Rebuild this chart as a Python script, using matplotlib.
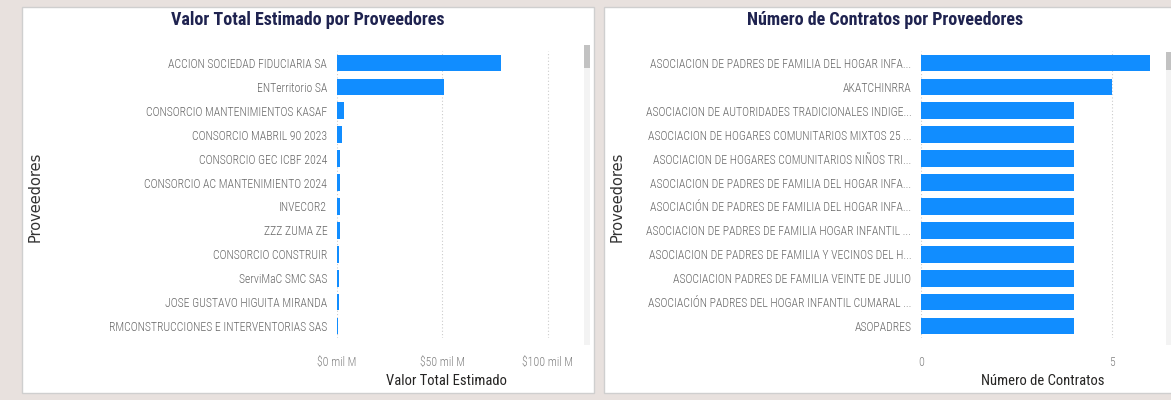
import matplotlib
matplotlib.use("Agg")
import matplotlib.pyplot as plt
from matplotlib.patches import Rectangle
from matplotlib import font_manager

# ---------------- data ----------------
left_categories = [
    "ACCION SOCIEDAD FIDUCIARIA SA",
    "ENTerritorio SA",
    "CONSORCIO MANTENIMIENTOS KASAF",
    "CONSORCIO MABRIL 90 2023",
    "CONSORCIO GEC ICBF 2024",
    "CONSORCIO AC MANTENIMIENTO 2024",
    "INVECOR2",
    "ZZZ ZUMA ZE",
    "CONSORCIO CONSTRUIR",
    "ServiMaC SMC SAS",
    "JOSE GUSTAVO HIGUITA MIRANDA",
    "RMCONSTRUCCIONES E INTERVENTORIAS SAS",
]
left_values = [77.7, 50.8, 3.4, 2.2, 1.5, 1.5, 1.4, 1.2, 1.1, 1.0, 0.8, 0.7]  # mil M
left_ticks = [0, 50, 100]
left_ticklabels = ["$0 mil M", "$50 mil M", "$100 mil M"]

right_categories = [
    "ASOCIACION DE PADRES DE FAMILIA DEL HOGAR INFA...",
    "AKATCHINRRA",
    "ASOCIACION DE AUTORIDADES TRADICIONALES INDIGE...",
    "ASOCIACION DE HOGARES COMUNITARIOS MIXTOS 25 ...",
    "ASOCIACION DE HOGARES COMUNITARIOS NIÑOS TRI...",
    "ASOCIACION DE PADRES DE FAMILIA DEL HOGAR INFA...",
    "ASOCIACIÓN DE PADRES DE FAMILIA DEL HOGAR INFA...",
    "ASOCIACION DE PADRES DE FAMILIA HOGAR INFANTIL ...",
    "ASOCIACION DE PADRES DE FAMILIA Y VECINOS DEL H...",
    "ASOCIACION PADRES DE FAMILIA VEINTE DE JULIO",
    "ASOCIACIÓN PADRES DEL HOGAR INFANTIL CUMARAL ...",
    "ASOPADRES",
]
right_values = [6, 5, 4, 4, 4, 4, 4, 4, 4, 4, 4, 4]
right_ticks = [0, 5]
right_ticklabels = ["0", "5"]

left_title = "Valor Total Estimado por Proveedores"
right_title = "Número de Contratos por Proveedores"
left_xlabel = "Valor Total Estimado"
right_xlabel = "Número de Contratos"
ylabel = "Proveedores"

# ---------------- style ----------------
W, H = 1171, 400
BG = "#e8e1de"
BAR = "#118DFF"
TITLE_C = "#1f2350"
LABEL_C = "#666666"

names = {f.name for f in font_manager.fontManager.ttflist}
NARROW_FAM = None
for cand in ["Liberation Sans Narrow", "Roboto Condensed", "Open Sans Condensed",
             "DejaVu Sans Condensed", "Noto Sans Condensed"]:
    if cand in names:
        NARROW_FAM = cand
        break
if NARROW_FAM is None:
    NARROW = dict(family="DejaVu Sans", stretch="condensed")
else:
    NARROW = dict(family=NARROW_FAM)

fig = plt.figure(figsize=(W / 100, H / 100), dpi=100)
fig.patch.set_facecolor(BG)


def fx(px):
    return px / W


def fy(py):
    return 1 - py / H


def rect(x0, y0, x1, y1, **kw):
    fig.patches.append(Rectangle((fx(x0), fy(y1)), fx(x1) - fx(x0), fy(y0) - fy(y1),
                                 transform=fig.transFigure, **kw))


# panels
rect(22, 7, 594, 393, facecolor="white", edgecolor="#cfcfcf", linewidth=1.0, zorder=-2)
rect(604, 7, 1175, 393, facecolor="white", edgecolor="#cfcfcf", linewidth=1.0, zorder=-2)

# scrollbars
rect(584, 45, 590, 345, facecolor="#f3f3f3", edgecolor="none", zorder=-1)
rect(584, 45, 590, 68, facecolor="#c2c2c2", edgecolor="none", zorder=-1)
rect(1166, 52, 1172, 345, facecolor="#f3f3f3", edgecolor="none", zorder=-1)
rect(1166, 52, 1172, 70, facecolor="#c2c2c2", edgecolor="none", zorder=-1)


def make_axes(x0, x1, xmax, cats, vals, ticks, ticklabels, title, title_x, xlabel,
              xlabel_x, ylabel_x):
    top, bottom = 51, 338
    ax = fig.add_axes([fx(x0), fy(bottom), fx(x1) - fx(x0), fy(top) - fy(bottom)])
    ax.set_zorder(5)
    ax.set_facecolor("none")
    n = len(cats)
    ypos = list(range(n))
    ax.barh(ypos, vals, height=0.7, color=BAR, zorder=3)
    ax.set_ylim(n - 0.5, -0.5)
    ax.set_xlim(0, xmax)
    ax.set_yticks(ypos)
    ax.set_yticklabels(cats, fontsize=8.5, color=LABEL_C, weight="light", **NARROW)
    ax.set_xticks(ticks)
    ax.set_xticklabels(ticklabels, fontsize=8.5, color="#808080", weight="light", **NARROW)
    ax.tick_params(axis="y", length=0, pad=7)
    ax.tick_params(axis="x", length=0, pad=13)
    for s in ax.spines.values():
        s.set_visible(False)
    ax.grid(axis="x", color="#cccccc", linestyle=(0, (1, 2)), linewidth=0.8, zorder=0)
    ax.grid(axis="y", visible=False)
    fig.text(fx(title_x), fy(20), title, fontsize=13, weight="bold",
             color=TITLE_C, ha="center", va="center", **NARROW)
    fig.text(fx(xlabel_x), fy(381), xlabel, fontsize=10.5,
             color="#252423", ha="center", va="center", **NARROW)
    fig.text(fx(ylabel_x), fy(197), ylabel, family="DejaVu Sans", fontsize=10.5,
             color="#333333", rotation=90, ha="center", va="center")
    return ax


make_axes(337, 570, (570 - 337) / 2.105, left_categories, left_values, left_ticks,
          left_ticklabels, left_title, 308, left_xlabel, 446, 35)
make_axes(921, 1153, (1153 - 921) / 38.2, right_categories, right_values, right_ticks,
          right_ticklabels, right_title, 885, right_xlabel, 1043, 617)

fig.savefig("out.png", dpi=100, facecolor=BG)
